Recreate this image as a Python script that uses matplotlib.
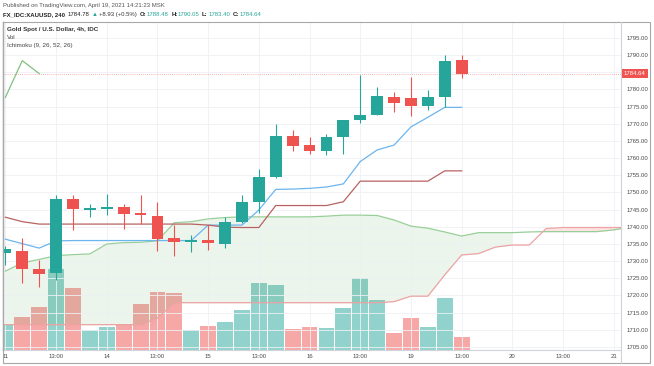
import matplotlib
matplotlib.use('Agg')
import matplotlib.pyplot as plt
import matplotlib.transforms as mtransforms
from matplotlib.patches import Rectangle
import numpy as np

plt.rcParams['font.family'] = ['Liberation Sans', 'DejaVu Sans']

# ---------------- data ----------------
opens = [1732.3, 1733.0, 1727.6, 1726.5, 1748.0, 1745.0, 1745.1, 1745.7, 1744.1, 1743.2,
         1736.6, 1735.5, 1736.1, 1734.9, 1741.5, 1747.3, 1754.6, 1766.5, 1763.8, 1762.2,
         1766.1, 1771.1, 1772.5, 1777.9, 1777.6, 1775.2, 1777.7, 1788.48]
highs = [1734.5, 1736.7, 1730.3, 1749.3, 1749.3, 1746.6, 1749.6, 1746.6, 1749.3, 1747.3,
         1740.5, 1737.6, 1740.5, 1743.0, 1749.3, 1756.8, 1770.0, 1768.2, 1766.1, 1767.0,
         1771.2, 1784.2, 1780.8, 1779.4, 1783.7, 1779.9, 1790.0, 1790.05]
lows = [1729.0, 1723.6, 1722.5, 1724.5, 1739.1, 1743.0, 1743.4, 1739.3, 1740.8, 1733.0,
        1731.5, 1732.8, 1733.2, 1733.7, 1741.0, 1743.9, 1754.2, 1762.2, 1761.1, 1760.9,
        1761.2, 1770.2, 1772.5, 1773.5, 1772.3, 1774.0, 1775.0, 1783.40]
closes = [1733.5, 1727.6, 1726.3, 1748.0, 1745.1, 1745.2, 1745.7, 1743.7, 1743.4, 1736.4,
          1735.5, 1736.1, 1735.3, 1741.5, 1747.3, 1754.4, 1766.5, 1763.6, 1762.0, 1766.1,
          1771.1, 1772.7, 1778.2, 1776.0, 1775.1, 1777.7, 1788.4, 1784.64]
volumes = [26, 33, 43, 81, 62, 20, 23, 26, 46, 58, 57, 20, 24, 28, 40, 67, 65, 21, 23, 22,
           42, 72, 50, 17, 32, 23, 52, 13]

conversion_line = [1736.4, 1735.1, 1733.8, 1735.9, 1736.0, 1736.0, 1736.0, 1736.0, 1736.0, 1736.0,
                   1736.0, 1736.0, 1740.5, 1740.5, 1740.5, 1744.9, 1750.9, 1751.0, 1751.2, 1751.6,
                   1752.5, 1759.0, 1762.4, 1763.8, 1769.1, 1771.9, 1774.8, 1774.8]
base_line = [1742.8, 1741.5, 1740.8, 1740.8, 1740.8, 1740.8, 1740.8, 1740.8, 1740.8, 1740.8,
             1740.8, 1740.8, 1740.5, 1739.9, 1739.8, 1739.8, 1746.2, 1746.2, 1746.2, 1746.2,
             1747.3, 1753.3, 1753.3, 1753.3, 1753.3, 1753.3, 1756.3, 1756.3]
lead_a = [1727.1, 1729.5, 1730.5, 1731.6, 1731.9, 1732.1, 1735.0, 1735.4, 1735.5, 1735.9,
          1741.2, 1741.5, 1742.3, 1742.7, 1742.9, 1742.9, 1742.9, 1742.9, 1742.9, 1743.1,
          1743.4, 1743.4, 1743.3, 1742.0, 1740.2, 1739.6, 1738.5, 1737.3, 1738.3, 1738.3,
          1738.3, 1738.5, 1738.6, 1738.6, 1738.6, 1738.6, 1739.1, 1740.0]
lead_b = [1711.5, 1711.5, 1711.5, 1711.5, 1711.5, 1711.5, 1711.5, 1711.5, 1711.5, 1713.4,
          1717.9, 1717.9, 1717.9, 1717.9, 1717.9, 1717.9, 1717.9, 1717.9, 1717.9, 1717.9,
          1717.9, 1717.9, 1717.9, 1718.2, 1719.8, 1719.8, 1726.0, 1731.8, 1732.2, 1734.1,
          1734.7, 1734.7, 1739.5, 1739.8, 1739.8, 1739.8, 1739.8, 1739.8]
lag_shift = 25

tick_labels = ["11", "13:00", "14", "13:00", "15", "13:00", "16", "13:00",
               "19", "13:00", "20", "13:00", "21"]
price_ticks = [1705, 1710, 1715, 1720, 1725, 1730, 1735, 1740, 1745, 1750,
               1755, 1760, 1765, 1770, 1775, 1780, 1785, 1790, 1795]
hidden_price_labels = [1785]   # covered by the last-price label in the reference
last_price = 1784.64

# ---------------- layout ----------------
W, H = 654, 366
fig = plt.figure(figsize=(W / 100, H / 100), dpi=100)
fig.patch.set_facecolor('white')

L, R, T, B = 3, 621, 22, 350
rect = [L / W, 1 - B / H, (R - L) / W, (B - T) / H]

UP = '#26a69a'
DN = '#ef5350'

n = len(opens)
idx = np.arange(n)
xmin, xmax = -0.14, 36.43
ymin, ymax = 1704.12, 1799.66

# volume axis (bottom layer)
axv = fig.add_axes(rect)
axv.set_xlim(xmin, xmax)
axv.set_ylim(0, 328)
axv.axis('off')
vcols = [UP if c >= o else DN for o, c in zip(opens, closes)]
axv.bar(idx, volumes, width=0.94, color=vcols, alpha=0.5, linewidth=0)

# main price axis
ax = fig.add_axes(rect)
ax.patch.set_visible(False)
ax.set_xlim(xmin, xmax)
ax.set_ylim(ymin, ymax)

# grid
ax.set_xticks(np.arange(0, 37, 3))
ax.set_xticklabels(tick_labels)
ax.set_yticks(price_ticks)
ax.set_yticklabels(["" if p in hidden_price_labels else f"{p:.2f}" for p in price_ticks])
ax.grid(True, color='#eef0f4', linewidth=0.6, zorder=0)
ax.yaxis.tick_right()
ax.tick_params(axis='both', length=0, labelsize=4.3, colors='#4a4a4a')
ax.tick_params(axis='y', pad=4)
ax.tick_params(axis='x', pad=3)
for s in ['top', 'right']:
    ax.spines[s].set_visible(False)
ax.spines['left'].set_color('#9a9a9a')
ax.spines['left'].set_linewidth(1.0)
ax.spines['bottom'].set_color('#d0d3da')
ax.spines['bottom'].set_linewidth(0.8)

# cloud
cx = np.arange(len(lead_a))
a = np.array(lead_a)
b = np.array(lead_b)
ax.fill_between(cx, a, b, where=(a >= b) & (cx <= 30), interpolate=True,
                color='#43A047', alpha=0.1, linewidth=0, zorder=1)
ax.fill_between(cx, a, b, where=(b > a) & (cx >= 31), interpolate=True,
                color='#F44336', alpha=0.15, linewidth=0, zorder=1)
ax.plot(cx, lead_a, color='#98cf98', linewidth=0.9, zorder=2)
ax.plot(cx, lead_b, color='#eda3a3', linewidth=0.9, zorder=2)

# lagging span
ax.plot(idx[:n - lag_shift], closes[lag_shift:], color='#80c080', linewidth=0.9, zorder=3)
# conversion & base
ax.plot(idx, conversion_line, color='#6cb5ee', linewidth=0.9, zorder=3)
ax.plot(idx, base_line, color='#b86262', linewidth=0.9, zorder=3)

# last price line
ax.axhline(last_price, color=DN, linewidth=0.6, linestyle=(0, (1, 1.5)), alpha=0.6, zorder=2)

# candles
for i in range(n):
    o, h, l, c = opens[i], highs[i], lows[i], closes[i]
    col = UP if c >= o else DN
    ax.vlines(i, l, h, color=col, linewidth=0.8, zorder=4)
    body = max(abs(c - o), 0.45)
    ax.bar(i, body, bottom=min(o, c), width=0.7, color=col, linewidth=0, zorder=5)

# price label on the scale
trans = mtransforms.blended_transform_factory(ax.transAxes, ax.transData)
ax.text(1.0 + 3 / (R - L), last_price, f"{last_price:.2f}", transform=trans,
        ha='left', va='center', fontsize=4.3, color='white', zorder=10,
        bbox=dict(boxstyle='square,pad=0.35', facecolor=DN, edgecolor='none'),
        clip_on=False)

# outer frame
fig.add_artist(Rectangle((L / W, 1 - 363 / H), (650 - L) / W, (363 - T) / H,
                         transform=fig.transFigure, fill=False,
                         edgecolor='#a8a8a8', linewidth=0.8))
# price-scale separator
fig.add_artist(plt.Line2D([R / W, R / W], [1 - 363 / H, 1 - T / H],
                          transform=fig.transFigure, color='#d0d3da', linewidth=0.8))

# header texts
renderer = fig.canvas.get_renderer()


def seq_text(x_px, y_px, pieces, size):
    x = x_px
    for s, color, weight, gap in pieces:
        t = fig.text(x / W, 1 - y_px / H, s, color=color, fontsize=size,
                     fontweight=weight, va='center', ha='left')
        bb = t.get_window_extent(renderer=renderer)
        x += bb.width + gap


fig.text(3 / W, 1 - 5 / H, "Published on TradingView.com, April 19, 2021 14:21:23 MSK",
         fontsize=4.3, color='#555555', va='center', ha='left')
seq_text(3, 14.3, [
    ("FX_IDC:XAUUSD, 240", '#222222', 'bold', 3),
    ("1784.78", '#222222', 'normal', 2),
    ("\u25b2", UP, 'normal', 1),
    ("+8.93 (+0.5%)", '#333333', 'normal', 3),
    ("O:", '#222222', 'bold', 0.5),
    ("1788.48", UP, 'normal', 2.5),
    ("H:", '#222222', 'bold', 0.5),
    ("1790.05", UP, 'normal', 2.5),
    ("L:", '#222222', 'bold', 0.5),
    ("1783.40", UP, 'normal', 2.5),
    ("C:", '#222222', 'bold', 0.5),
    ("1784.64", UP, 'normal', 0),
], 4.3)

fig.text(7 / W, 1 - 29.3 / H, "Gold Spot / U.S. Dollar, 4h, IDC", fontsize=4.5,
         fontweight='bold', color='#333333', va='center', ha='left')
fig.text(7 / W, 1 - 37.3 / H, "Vol", fontsize=4.5, color='#444444', va='center', ha='left')
fig.text(7 / W, 1 - 45.5 / H, "Ichimoku (9, 26, 52, 26)", fontsize=4.5, color='#444444',
         va='center', ha='left')

fig.savefig('out.png', dpi=100, facecolor='white')
